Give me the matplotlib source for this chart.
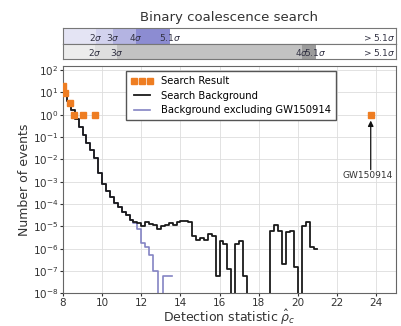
import numpy as np
import matplotlib
matplotlib.use("Agg")
from matplotlib import pyplot as plt

#%% data

# search result (orange squares)
res_x = [7.98, 8.12, 8.36, 8.56, 9.02, 9.62, 23.72]
res_y = [20.0, 9.5, 3.4, 1.0, 1.0, 1.0, 1.0]

# search background, step histogram: bin left edges (0.2 wide) and log10 of counts, None = empty bin
bg_edges = [8.0, 8.2, 8.4, 8.6, 8.8, 9.0, 9.2, 9.4, 9.6, 9.8,
            10.0, 10.2, 10.4, 10.6, 10.8, 11.0, 11.2, 11.4, 11.6, 11.8,
            12.0, 12.2, 12.4, 12.6, 12.8, 13.0, 13.2, 13.4, 13.6, 13.8,
            14.0, 14.2, 14.4, 14.6, 14.8, 15.0, 15.2, 15.4, 15.6, 15.8,
            16.0, 16.2, 16.4, 16.6, 16.8, 17.0, 17.2, 17.4, 17.6, 17.8,
            18.0, 18.2, 18.4, 18.6, 18.8, 19.0, 19.2, 19.4, 19.6, 19.8,
            20.0, 20.2, 20.4, 20.6, 20.8, 21.0]
bg_log = [1.0, 0.6, 0.2, -0.18, -0.55, -0.9, -1.25, -1.6, -1.95, -2.6,
          -3.1, -3.4, -3.7, -3.95, -4.15, -4.35, -4.5, -4.7, -4.8, -4.85,
          -5.0, -4.8, -4.9, -4.95, -5.1, -5.0, -4.95, -4.85, -4.95, -4.8,
          -4.75, -4.75, -4.8, -5.45, -5.6, -5.5, -5.6, -5.35, -5.45, -7.2,
          -5.65, -5.8, -6.9, None, -5.8, -5.65, -7.2, None, None, None,
          None, None, None, -5.2, -4.95, -5.2, -6.7, -5.25, -5.2, -6.8,
          None, -5.0, -4.8, -5.9, -6.0]

# background excluding GW150914
ex_edges = bg_edges[:19] + [11.8, 12.0, 12.2, 12.4, 12.6, 12.85, 13.1, 13.55]
ex_log = bg_log[:18] + [-4.85, -5.1, -5.75, -5.9, -6.3, -7.0, None, -7.2]

# significance bands on top
top_lvls = ["2\\sigma", "3\\sigma", "4\\sigma", "5.1\\sigma"]
top1_x = [9.68, 10.55, 11.72, 13.46]
top2_x = [9.63, 10.75, 20.2, 20.9]
top1_cols = ["#e4e4f4", "#d2d2ee", "#b4b4e2", "#8c8cd2"]
top2_cols = ["#ececec", "#dedede", "#c2c2c2", "#9c9c9c"]

xmin, xmax = 8, 25


def to_counts(vals):
    return [10.0 ** v if v is not None else 1e-12 for v in vals]


def step_xy(edges, vals):
    c = to_counts(vals)
    return edges, c + [c[-1]]


#%% figure
fig = plt.figure(figsize=(4.01, 3.26), dpi=100)
ax = fig.add_axes([0.157, 0.100, 0.830, 0.697])

ex_x, ex_c = step_xy(ex_edges, ex_log)
bg_x, bg_c = step_xy(bg_edges, bg_log)
ax.step(ex_x, ex_c, where="post", color="#8484c4", lw=1.2, zorder=2,
        label="Background excluding GW150914")
ax.step(bg_x, bg_c, where="post", color="#1a1a1a", lw=1.3, zorder=3,
        label="Search Background")
ax.plot(res_x, res_y, "s", color="#ee7d22", ms=4.5, mec="#ee7d22", zorder=4,
        label="Search Result")

ax.set_yscale("log")
ax.set_xlim(xmin, xmax)
ax.set_ylim(1e-8, 150)
ax.set_xticks(np.arange(8, 25, 2))
ax.yaxis.set_major_locator(matplotlib.ticker.LogLocator(base=10, numticks=20))
ax.yaxis.set_minor_locator(matplotlib.ticker.NullLocator())
ax.tick_params(labelsize=7.5, length=2, colors="#333333", pad=1.5)
ax.grid(True, color="#dddddd", lw=0.6)
for s in ax.spines.values():
    s.set_color("#666666")

ax.set_xlabel("Detection statistic $\\hat{\\rho}_c$", fontsize=9, labelpad=0, color="#333333")
ax.set_ylabel("Number of events", fontsize=9, labelpad=1, color="#333333")

h, l = ax.get_legend_handles_labels()
leg = ax.legend([h[2], h[1], h[0]], [l[2], l[1], l[0]], loc="upper left",
                bbox_to_anchor=(0.175, 1.0), fontsize=7.2, numpoints=3,
                fancybox=False, framealpha=1, edgecolor="#555555",
                borderpad=0.5, labelspacing=0.45, handlelength=2.2)

# arrow to GW150914
ax.annotate("", xy=(23.72, 0.55), xytext=(23.72, 3.5e-3),
            arrowprops=dict(arrowstyle="-|>", color="#111111", lw=0.9,
                            shrinkA=0, shrinkB=0, mutation_scale=8))
ax.text(23.55, 3.0e-3, "GW150914", ha="center", va="top", fontsize=6.5,
        color="#333333")

# top strips
for pos, xs, cols in [([0.157, 0.865, 0.830, 0.049], top1_x, top1_cols),
                      ([0.157, 0.819, 0.830, 0.046], top2_x, top2_cols)]:
    sax = fig.add_axes(pos)
    sax.set_xlim(xmin, xmax)
    sax.set_ylim(0, 1)
    bounds = [xmin] + xs
    for i in range(len(xs)):
        sax.axvspan(bounds[i], bounds[i + 1], color=cols[i], lw=0)
    for x, lab in zip(xs, top_lvls):
        sax.text(x, 0.08, "$" + lab + "$", ha="center", va="bottom",
                 fontsize=6.5, color="#333344")
    sax.text(24.1, 0.08, "$>5.1\\sigma$", ha="center", va="bottom",
             fontsize=6.5, color="#333344")
    sax.set_xticks([])
    sax.set_yticks([])
    for s in sax.spines.values():
        s.set_color("#777777")
        s.set_linewidth(0.8)

fig.text(0.572, 0.945, "Binary coalescence search", ha="center", va="center",
         fontsize=9.5, color="#333333")

fig.savefig("out.png", dpi=100)
